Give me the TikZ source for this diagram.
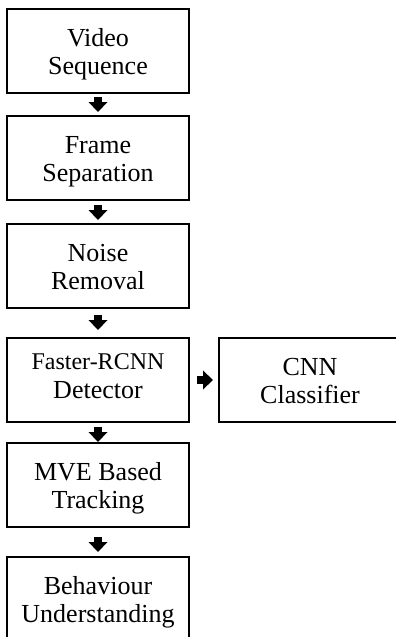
\documentclass[tikz,border=0pt]{standalone}
\usepackage{fontspec}
\setmainfont{Liberation Serif}
\usetikzlibrary{arrows.meta}

% text height/depth refer to the baseline of the last text line
\tikzset{
  stage/.style={draw=black, line width=2.6pt, rectangle, outer sep=0pt,
    minimum width=182pt, minimum height=84pt, inner sep=0pt, align=center,
    font=\fontsize{26}{28.5}\selectfont, text height=50pt, text depth=3pt},
  blockarrow/.style={line width=7.5pt, draw=black,
    -{Triangle[width=19pt,length=10pt,line width=0pt]}},
}

\begin{document}
\begin{tikzpicture}[x=1pt,y=-1pt]
  \clip (0,0) rectangle (396,637);

  % processing stages
  \node[stage] (video)  at (98,51)  {Video\\Sequence};
  \node[stage] (frame)  at (98,158) {Frame\\Separation};
  \node[stage] (noise)  at (98,266) {Noise\\Removal};
  \node[stage, text height=40pt, text depth=4pt] (detect) at (98,380)
    {{\fontsize{24}{28.5}\selectfont Faster-RCNN}\\Detector};
  \node[stage] (classify) at (310,380) {CNN\\Classifier};
  \node[stage] (track)  at (98,485) {MVE Based\\Tracking};
  \node[stage] (behave) at (98,599) {Behaviour\\Understanding};

  % flow between stages
  \draw[blockarrow, shorten <=4pt, shorten >=4pt] (video) -- (frame);
  \draw[blockarrow, shorten <=5pt, shorten >=4pt] (frame) -- (noise);
  \draw[blockarrow, shorten <=7pt, shorten >=8pt] (noise) -- (detect);
  \draw[blockarrow, shorten <=5pt, shorten >=1pt] (detect) -- (track);
  \draw[blockarrow, shorten <=10pt, shorten >=5pt] (track) -- (behave);
  \draw[blockarrow, shorten <=8pt, shorten >=6pt] (detect) -- (classify);
\end{tikzpicture}
\end{document}
